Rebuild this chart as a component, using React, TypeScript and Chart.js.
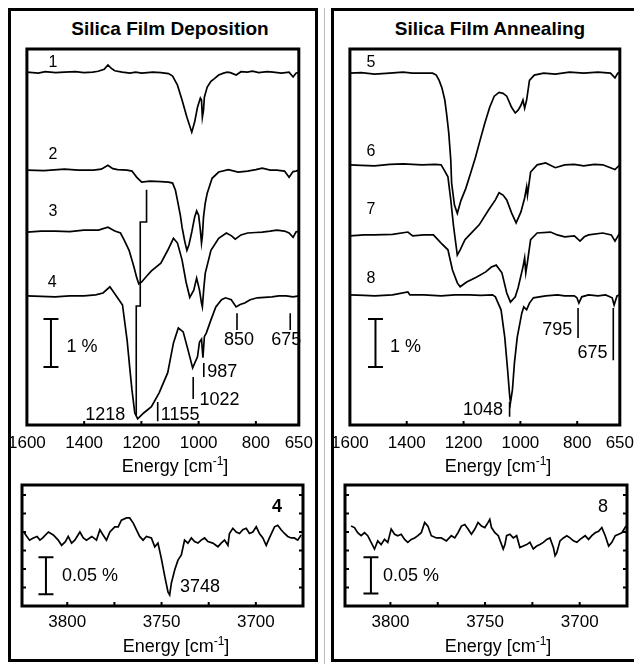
import React, { useEffect, useRef } from "react";
import { Chart, registerables } from "chart.js";

Chart.register(...registerables);

const FONT = "Arial, 'Liberation Sans', Helvetica, sans-serif";

type Pt = [number, number];

// ---------- axes ----------
const fingerprintRange: Pt = [650, 1600];
const fingerprintTicks = [1600, 1400, 1200, 1000, 800, 650];
const fingerprintInnerTicks = [1400, 1200, 1000, 800];
const fingerprintYMax = 7.833;

const hydroxylRange: Pt = [3675, 3824];
const hydroxylTicks = [3800, 3750, 3700];
const hydroxylInnerTicks = [3800, 3775, 3750, 3725, 3700];
const hydroxylYTicks = [0.025, 0.05, 0.075, 0.1, 0.125, 0.15];
const hydroxylYMax = 0.1635;

// ---------- deposition spectra (wavenumber, change in %) ----------
const spectrum1: Pt[] = [
  [1600, 0], [1560, -0.02], [1536, 0.01], [1500, -0.01], [1469, 0], [1430, 0.01], [1401, -0.01], [1370, 0],
  [1351, 0.02], [1330, 0.06], [1317, 0.15], [1305, 0.08], [1293, 0.03], [1267, 0], [1240, -0.02], [1220, 0],
  [1199, -0.02], [1160, 0], [1132, -0.01], [1105, -0.03], [1091, -0.08], [1074, -0.27], [1058, -0.58],
  [1041, -0.94], [1024, -1.25], [1014, -1.04], [1004, -0.73], [994, -0.54], [990, -0.58], [987, -0.94],
  [983, -0.79], [980, -0.52], [970, -0.31], [957, -0.19], [946, -0.14], [930, -0.06], [913, -0.02], [900, 0],
  [889, -0.01], [869, -0.06], [852, 0.01], [830, 0], [812, 0.02], [790, -0.01], [761, 0.01], [740, 0],
  [711, -0.02], [684, 0], [670, -0.1], [660, -0.02], [650, 0],
];
const spectrum2: Pt[] = [
  [1600, 0], [1540, -0.01], [1469, 0.02], [1420, 0], [1368, 0], [1340, 0.02], [1317, 0.1], [1300, 0.03],
  [1283, 0.01], [1250, 0], [1233, -0.02], [1216, -0.15], [1199, -0.25], [1170, -0.23], [1132, -0.24],
  [1105, -0.25], [1091, -0.27], [1081, -0.42], [1074, -0.63], [1064, -0.94], [1058, -1.19], [1048, -1.5],
  [1041, -1.67], [1034, -1.56], [1024, -1.29], [1014, -0.98], [1007, -0.85], [1000, -0.94], [994, -1.25],
  [990, -1.52], [987, -1.38], [983, -0.98], [977, -0.69], [970, -0.48], [953, -0.17], [930, -0.04],
  [896, 0.01], [862, -0.04], [829, -0.02], [800, 0.01], [778, 0.04], [750, 0], [727, 0], [700, -0.02],
  [684, -0.15], [670, -0.03], [660, -0.02], [650, 0],
];
const spectrum3: Pt[] = [
  [1600, -0.02], [1550, 0], [1502, 0], [1450, -0.01], [1401, 0.02], [1350, 0.02], [1317, 0.08], [1293, 0],
  [1273, -0.04], [1260, -0.19], [1243, -0.4], [1226, -0.75], [1216, -0.98], [1209, -1.1], [1199, -1.06],
  [1182, -0.94], [1165, -0.83], [1132, -0.67], [1108, -0.4], [1088, -0.15], [1074, -0.25], [1058, -0.6],
  [1044, -1.06], [1031, -1.38], [1017, -1.23], [1007, -0.98], [997, -1.23], [990, -1.5], [987, -1.58],
  [982, -1.2], [977, -0.88], [957, -0.4], [930, -0.15], [903, -0.04], [885, -0.1], [872, -0.17], [852, -0.08],
  [829, -0.04], [800, -0.03], [778, -0.02], [750, 0], [727, 0.02], [700, 0], [684, -0.04], [670, -0.13],
  [660, -0.02], [650, 0],
];
const spectrum4: Pt[] = [
  [1600, 0], [1550, -0.01], [1502, -0.02], [1450, 0], [1401, 0], [1360, 0.02], [1334, 0.06], [1310, 0.19],
  [1290, 0.02], [1266, -0.19], [1250, -0.92], [1240, -1.54], [1233, -1.96], [1223, -2.44], [1213, -2.56],
  [1192, -2.44], [1165, -2.31], [1138, -2.02], [1108, -1.6], [1088, -0.98], [1071, -0.67], [1054, -0.75],
  [1037, -1.13], [1021, -1.5], [1004, -1.27], [997, -0.96], [990, -0.9], [985, -1.29], [980, -0.85],
  [973, -0.77], [957, -0.5], [940, -0.23], [920, -0.08], [906, -0.04], [886, -0.08], [869, -0.23],
  [855, -0.18], [839, -0.15], [820, -0.08], [795, -0.04], [770, -0.03], [744, -0.02], [720, 0], [694, 0],
  [670, -0.02], [650, 0],
];

// ---------- annealing spectra ----------
const spectrum5: Pt[] = [
  [1600, 0], [1560, 0.01], [1513, -0.02], [1460, 0], [1413, 0.02], [1380, 0], [1346, 0], [1309, 0],
  [1296, -0.04], [1286, -0.15], [1276, -0.31], [1266, -0.56], [1259, -0.88], [1252, -1.25], [1245, -1.81],
  [1242, -2.29], [1232, -2.75], [1222, -2.92], [1209, -2.65], [1192, -2.4], [1175, -2.08], [1158, -1.75],
  [1142, -1.4], [1125, -1.04], [1108, -0.71], [1092, -0.48], [1075, -0.4], [1061, -0.42], [1048, -0.48],
  [1031, -0.71], [1018, -0.83], [1008, -0.77], [998, -0.67], [991, -0.56], [985, -0.73], [978, -0.56],
  [968, -0.15], [951, -0.04], [918, 0], [877, -0.02], [827, 0.02], [777, 0], [727, 0.02], [683, 0],
  [667, -0.1], [657, 0], [650, 0],
];
const spectrum6: Pt[] = [
  [1600, 0], [1560, -0.01], [1513, -0.02], [1460, 0.01], [1413, 0.02], [1346, 0], [1300, 0.01], [1279, 0],
  [1269, -0.1], [1255, -0.25], [1245, -0.73], [1235, -1.29], [1222, -1.88], [1212, -1.77], [1195, -1.56],
  [1179, -1.46], [1145, -1.25], [1112, -0.94], [1088, -0.73], [1075, -0.58], [1061, -0.63], [1048, -0.73],
  [1031, -1.0], [1015, -1.21], [998, -0.98], [985, -0.69], [978, -0.46], [975, -0.63], [964, -0.15],
  [941, 0], [911, 0.04], [877, -0.06], [844, 0], [810, 0.01], [777, -0.02], [740, 0.01], [710, 0],
  [667, -0.1], [650, 0],
];
const spectrum7: Pt[] = [
  [1600, -0.02], [1550, 0], [1513, 0], [1450, 0.01], [1396, 0.06], [1379, -0.02], [1340, 0], [1306, 0],
  [1279, -0.17], [1255, -0.31], [1239, -0.73], [1222, -1.0], [1212, -1.08], [1189, -0.98], [1155, -0.88],
  [1122, -0.77], [1102, -0.67], [1085, -0.63], [1065, -0.79], [1048, -1.21], [1035, -1.4], [1018, -1.29],
  [1008, -1.1], [991, -0.67], [985, -0.48], [981, -0.79], [975, -0.56], [964, -0.1], [941, 0.04], [894, 0.06],
  [870, 0], [844, -0.04], [810, -0.02], [790, -0.13], [775, -0.04], [760, 0], [710, 0.04], [680, 0],
  [667, -0.13], [650, 0.04],
];
const spectrum8: Pt[] = [
  [1600, 0], [1550, -0.01], [1513, -0.02], [1450, 0], [1396, 0.06], [1389, 0], [1340, 0], [1279, -0.02],
  [1230, 0], [1179, 0], [1140, -0.01], [1098, 0], [1088, -0.04], [1068, -0.31], [1055, -0.88], [1045, -1.56],
  [1038, -2.08], [1035, -2.25], [1028, -1.98], [1021, -1.42], [1011, -0.88], [995, -0.38], [988, -0.25],
  [978, -0.31], [968, -0.17], [954, -0.06], [911, -0.02], [870, 0], [844, -0.02], [810, -0.02], [801, -0.06],
  [794, -0.17], [784, -0.04], [760, 0], [727, -0.02], [700, 0], [677, -0.06], [670, -0.21], [660, -0.02],
  [650, 0],
];

const depositionOffsets = [7.35, 5.31, 4.04, 2.69];
const annealingOffsets = [7.33, 5.42, 3.96, 2.71];
const depositionNames = ["1", "2", "3", "4"];
const annealingNames = ["5", "6", "7", "8"];
const depositionNamePos: Pt[] = [[1509, 7.54], [1509, 5.625], [1509, 4.44], [1512, 2.96]];
const annealingNamePos: Pt[] = [[1526, 7.54], [1526, 5.69], [1526, 4.48], [1526, 3.06]];

// ---------- O-H region spectra ----------
const hydroxyl4: Pt[] = [
  [3823, 0.1], [3822, 0.096], [3820, 0.089], [3818, 0.092], [3816, 0.094], [3814.5, 0.089], [3813, 0.092],
  [3810, 0.1], [3807.4, 0.096], [3804.8, 0.089], [3803, 0.082], [3801, 0.087], [3799.5, 0.094],
  [3797.7, 0.085], [3796, 0.089], [3793.3, 0.1], [3791.5, 0.092], [3789.8, 0.089], [3787, 0.094],
  [3784.5, 0.089], [3782.7, 0.103], [3781, 0.096], [3779.2, 0.089], [3777.4, 0.1], [3774.8, 0.107],
  [3773, 0.107], [3771.3, 0.116], [3768.6, 0.119], [3766.9, 0.119], [3765, 0.112], [3763.3, 0.103],
  [3761.6, 0.094], [3759.8, 0.089], [3758, 0.094], [3755.4, 0.092], [3753.6, 0.08], [3751.9, 0.085],
  [3750.1, 0.064], [3748.3, 0.04], [3746.6, 0.019], [3745.7, 0.015], [3744.8, 0.031], [3743, 0.049],
  [3741.3, 0.062], [3739.5, 0.069], [3737.8, 0.089], [3736, 0.085], [3734.2, 0.092], [3732.5, 0.087],
  [3730.7, 0.085], [3729, 0.089], [3727.2, 0.092], [3725.4, 0.087], [3722.8, 0.085], [3720.1, 0.08],
  [3718.4, 0.085], [3716.6, 0.089], [3714.8, 0.082], [3714, 0.098], [3712.2, 0.105], [3710.4, 0.1],
  [3708.7, 0.098], [3706.9, 0.103], [3705.1, 0.105], [3703.4, 0.098], [3701.6, 0.1], [3699.8, 0.107],
  [3698.1, 0.098], [3696.3, 0.092], [3694.5, 0.082], [3692.8, 0.092], [3690.1, 0.107], [3688.4, 0.109],
  [3686.6, 0.103], [3684.8, 0.098], [3683.1, 0.094], [3681.3, 0.092], [3679.6, 0.092], [3677.8, 0.089],
  [3676, 0.096],
];
const hydroxyl8: Pt[] = [
  [3820.8, 0.108], [3819, 0.106], [3817.3, 0.099], [3815.5, 0.095], [3813.7, 0.099], [3812, 0.095],
  [3810.2, 0.086], [3808.4, 0.077], [3806.7, 0.088], [3804.9, 0.083], [3803.1, 0.09], [3801.4, 0.086],
  [3799.6, 0.104], [3797.8, 0.097], [3796.1, 0.095], [3794.3, 0.097], [3792.5, 0.09], [3790.8, 0.086],
  [3789, 0.09], [3787.2, 0.092], [3785.5, 0.095], [3783.7, 0.099], [3781.9, 0.113], [3780.2, 0.108],
  [3778.4, 0.095], [3775.7, 0.092], [3773.1, 0.092], [3770.4, 0.088], [3767.8, 0.095], [3766, 0.092],
  [3764.3, 0.099], [3762.5, 0.108], [3760.7, 0.11], [3759, 0.104], [3757.2, 0.097], [3755.4, 0.104],
  [3753.7, 0.113], [3751.9, 0.108], [3750.1, 0.106], [3748.4, 0.113], [3747.5, 0.117], [3746.6, 0.106],
  [3744.8, 0.099], [3743, 0.095], [3740.4, 0.077], [3739.5, 0.083], [3738.6, 0.095], [3736.9, 0.097],
  [3735.1, 0.092], [3733.3, 0.095], [3731.6, 0.079], [3729.8, 0.081], [3728, 0.083], [3726.3, 0.086],
  [3724.5, 0.077], [3722.7, 0.081], [3721, 0.083], [3719.2, 0.086], [3717.4, 0.09], [3715.7, 0.092],
  [3713.9, 0.079], [3713, 0.068], [3712.1, 0.072], [3710.4, 0.088], [3708.6, 0.092], [3706.8, 0.095],
  [3705.1, 0.092], [3703.3, 0.088], [3701.5, 0.086], [3699.8, 0.09], [3697.1, 0.095], [3695.3, 0.09],
  [3693.6, 0.095], [3691.8, 0.099], [3690, 0.101], [3688.3, 0.106], [3686.5, 0.095], [3684.7, 0.081],
  [3683, 0.086], [3681.2, 0.095], [3679.4, 0.097], [3677.7, 0.099], [3675.5, 0.108],
];

// ---------- annotations (data coordinates) ----------
type Txt = { text: string; wn: number; v: number; align: CanvasTextAlign; size: number; bold?: boolean };
type Bar = { wn: number; v1: number; v2: number };

const depositionMarkers: number[][] = [[1143, 0.48, 0.08], [1019, 1.0, 0.54], [982, 1.29, 1.0], [866, 2.33, 1.98], [680, 2.33, 1.98]];
const depositionGuide: Pt[] = [[1182, 4.9], [1182, 4.23], [1204, 4.23], [1204, 2.48], [1218, 2.48], [1218, 0.21]];
const depositionPeakTexts: Txt[] = [
  { text: "1218", wn: 1256, v: 0.21, align: "right", size: 18 },
  { text: "1155", wn: 1132, v: 0.21, align: "left", size: 18 },
  { text: "1022", wn: 997, v: 0.52, align: "left", size: 18 },
  { text: "987", wn: 970, v: 1.1, align: "left", size: 18 },
  { text: "850", wn: 859, v: 1.77, align: "center", size: 18 },
  { text: "675", wn: 694, v: 1.77, align: "center", size: 18 },
  { text: "1 %", wn: 1462, v: 1.625, align: "left", size: 18 },
];
const depositionBar: Bar = { wn: 1516, v1: 2.21, v2: 1.21 };

const annealingMarkers: number[][] = [[1038, 0.48, 0.17], [797, 2.44, 1.81], [673, 2.44, 1.35]];
const annealingPeakTexts: Txt[] = [
  { text: "1048", wn: 1061, v: 0.31, align: "right", size: 18 },
  { text: "795", wn: 817, v: 1.98, align: "right", size: 18 },
  { text: "675", wn: 693, v: 1.5, align: "right", size: 18 },
  { text: "1 %", wn: 1459, v: 1.625, align: "left", size: 18 },
];
const annealingBar: Bar = { wn: 1510, v1: 2.21, v2: 1.21 };

const hydroxyl4Texts: Txt[] = [
  { text: "0.05 %", wn: 3802.8, v: 0.04, align: "left", size: 18 },
  { text: "3748", wn: 3740.2, v: 0.025, align: "left", size: 18 },
  { text: "4", wn: 3688.8, v: 0.134, align: "center", size: 18, bold: true },
];
const hydroxyl4Bar: Bar = { wn: 3811.3, v1: 0.066, v2: 0.016 };
const hydroxyl8Texts: Txt[] = [
  { text: "0.05 %", wn: 3803.9, v: 0.04, align: "left", size: 18 },
  { text: "8", wn: 3687.7, v: 0.134, align: "center", size: 18 },
];
const hydroxyl8Bar: Bar = { wn: 3810.3, v1: 0.066, v2: 0.017 };

// ---------- drawing helpers ----------
interface Decor {
  xInner: number[];
  yInner?: number[];
  markers: number[][];
  guides: Pt[][];
  texts: Txt[];
  bars: Bar[];
}

function namesToTexts(names: string[], pos: Pt[]): Txt[] {
  return names.map((n, i) => ({ text: n, wn: pos[i][0], v: pos[i][1], align: "center" as CanvasTextAlign, size: 16 }));
}

function decorPlugin(d: Decor) {
  return {
    id: "decor",
    afterDatasetsDraw(chart: any) {
      const { ctx, chartArea: a } = chart;
      const xs = chart.scales.x;
      const ys = chart.scales.y;
      const X = (v: number) => xs.getPixelForValue(v);
      const Y = (v: number) => ys.getPixelForValue(v);
      ctx.save();
      ctx.strokeStyle = "#000";
      ctx.fillStyle = "#000";
      ctx.lineCap = "butt";
      // inner ticks
      ctx.lineWidth = 2;
      ctx.beginPath();
      d.xInner.forEach((t) => {
        const p = X(t);
        ctx.moveTo(p, a.bottom);
        ctx.lineTo(p, a.bottom - 4);
      });
      (d.yInner || []).forEach((t) => {
        const p = Y(t);
        ctx.moveTo(a.left, p);
        ctx.lineTo(a.left + 4, p);
        ctx.moveTo(a.right, p);
        ctx.lineTo(a.right - 4, p);
      });
      ctx.stroke();
      // peak markers and guides
      ctx.lineWidth = 1.6;
      ctx.beginPath();
      d.markers.forEach(([wn, v1, v2]) => {
        ctx.moveTo(X(wn), Y(v1));
        ctx.lineTo(X(wn), Y(v2));
      });
      d.guides.forEach((g) => {
        g.forEach(([wn, v], i) => (i === 0 ? ctx.moveTo(X(wn), Y(v)) : ctx.lineTo(X(wn), Y(v))));
      });
      ctx.stroke();
      // scale bars
      ctx.lineWidth = 2;
      ctx.beginPath();
      d.bars.forEach((b) => {
        const x = X(b.wn);
        ctx.moveTo(x, Y(b.v1));
        ctx.lineTo(x, Y(b.v2));
        ctx.moveTo(x - 7.5, Y(b.v1));
        ctx.lineTo(x + 7.5, Y(b.v1));
        ctx.moveTo(x - 7.5, Y(b.v2));
        ctx.lineTo(x + 7.5, Y(b.v2));
      });
      ctx.stroke();
      // texts
      ctx.textBaseline = "middle";
      d.texts.forEach((t) => {
        ctx.font = `${t.bold ? "bold " : ""}${t.size}px ${FONT}`;
        ctx.textAlign = t.align;
        ctx.fillText(t.text, X(t.wn), Y(t.v));
      });
      // frame
      ctx.lineWidth = 3;
      ctx.strokeRect(a.left, a.top, a.right - a.left, a.bottom - a.top);
      ctx.restore();
    },
  };
}

function makeConfig(
  series: Pt[][],
  offsets: number[],
  range: Pt,
  ticks: number[],
  yMax: number,
  decor: Decor,
  tickPadding: number,
  scaleHeight: number,
  padding: { left: number; right: number; top: number; bottom: number }
): any {
  return {
    type: "line",
    data: {
      datasets: series.map((s, i) => ({
        data: s.map(([x, y]) => ({ x, y: y + offsets[i] })),
        borderColor: "#000",
        borderWidth: 1.7,
        pointRadius: 0,
        fill: false,
        tension: 0,
      })),
    },
    options: {
      responsive: false,
      animation: false,
      events: [],
      layout: { padding },
      plugins: { legend: { display: false }, tooltip: { enabled: false } },
      scales: {
        x: {
          type: "linear",
          reverse: true,
          min: range[0],
          max: range[1],
          grid: { display: false, drawTicks: false },
          border: { display: false },
          ticks: {
            color: "#000",
            font: { family: FONT, size: 17 },
            padding: tickPadding,
            maxRotation: 0,
            autoSkip: false,
            callback: (v: number) => String(v),
          },
          afterBuildTicks: (s: any) => {
            s.ticks = ticks.map((value) => ({ value }));
          },
          afterFit: (s: any) => {
            s.height = scaleHeight;
          },
        },
        y: { display: false, min: 0, max: yMax },
      },
    },
    plugins: [decorPlugin(decor)],
  };
}

function ChartCanvas(props: { left: number; top: number; width: number; height: number; make: () => any }) {
  const ref = useRef<HTMLCanvasElement>(null);
  useEffect(() => {
    const c = new Chart(ref.current!, props.make());
    return () => c.destroy();
  }, []);
  return (
    <canvas
      ref={ref}
      width={props.width}
      height={props.height}
      style={{ position: "absolute", left: props.left, top: props.top, width: props.width, height: props.height }}
    />
  );
}

const titleStyle: React.CSSProperties = {
  position: "absolute",
  width: 300,
  textAlign: "center",
  fontFamily: FONT,
  fontWeight: "bold",
  fontSize: 19,
  lineHeight: "19px",
  color: "#000",
  whiteSpace: "nowrap",
};
const axisTitleStyle: React.CSSProperties = {
  position: "absolute",
  width: 200,
  textAlign: "center",
  fontFamily: FONT,
  fontSize: 18,
  lineHeight: "18px",
  color: "#000",
  whiteSpace: "nowrap",
};

function EnergyLabel({ cx, top }: { cx: number; top: number }) {
  return (
    <div style={{ ...axisTitleStyle, left: cx - 100, top }}>
      Energy [cm<span style={{ fontSize: 12, position: "relative", top: -7 }}>-1</span>]
    </div>
  );
}

export default function App() {
  const boxStyle: React.CSSProperties = {
    position: "absolute",
    top: 0,
    height: 654,
    border: "3px solid #000",
    boxSizing: "border-box",
  };
  return (
    <div style={{ position: "relative", width: 626, height: 656 }}>
      <div style={{ ...boxStyle, left: 0, width: 310 }} />
      <div style={{ position: "absolute", left: 316, top: 0, width: 1, height: 656, background: "#bbb" }} />
      <div style={{ ...boxStyle, left: 323, width: 307 }} />

      <div style={{ ...titleStyle, left: 162 - 150, top: 11 }}>Silica Film Deposition</div>
      <div style={{ ...titleStyle, left: 482 - 150, top: 11 }}>Silica Film Annealing</div>

      <ChartCanvas
        left={-8}
        top={32}
        width={321}
        height={435}
        make={() =>
          makeConfig(
            [spectrum1, spectrum2, spectrum3, spectrum4],
            depositionOffsets,
            fingerprintRange,
            fingerprintTicks,
            fingerprintYMax,
            {
              xInner: fingerprintInnerTicks,
              markers: depositionMarkers,
              guides: [depositionGuide],
              texts: [...depositionPeakTexts, ...namesToTexts(depositionNames, depositionNamePos)],
              bars: [depositionBar],
            },
            8,
            30,
            { left: 21, right: 18, top: 9, bottom: 20 }
          )
        }
      />
      <ChartCanvas
        left={315}
        top={32}
        width={319}
        height={435}
        make={() =>
          makeConfig(
            [spectrum5, spectrum6, spectrum7, spectrum8],
            annealingOffsets,
            fingerprintRange,
            fingerprintTicks,
            fingerprintYMax,
            {
              xInner: fingerprintInnerTicks,
              markers: annealingMarkers,
              guides: [],
              texts: [...annealingPeakTexts, ...namesToTexts(annealingNames, annealingNamePos)],
              bars: [annealingBar],
            },
            8,
            30,
            { left: 21, right: 14, top: 9, bottom: 20 }
          )
        }
      />
      <EnergyLabel cx={167} top={449} />
      <EnergyLabel cx={490} top={449} />

      <ChartCanvas
        left={-8}
        top={468}
        width={321}
        height={160}
        make={() =>
          makeConfig(
            [hydroxyl4],
            [0],
            hydroxylRange,
            hydroxylTicks,
            hydroxylYMax,
            {
              xInner: hydroxylInnerTicks,
              yInner: hydroxylYTicks,
              markers: [],
              guides: [],
              texts: hydroxyl4Texts,
              bars: [hydroxyl4Bar],
            },
            6,
            25,
            { left: 22, right: 18, top: 9, bottom: 5 }
          )
        }
      />
      <ChartCanvas
        left={315}
        top={468}
        width={319}
        height={160}
        make={() =>
          makeConfig(
            [hydroxyl8],
            [0],
            hydroxylRange,
            hydroxylTicks,
            hydroxylYMax,
            {
              xInner: hydroxylInnerTicks,
              yInner: hydroxylYTicks,
              markers: [],
              guides: [],
              texts: hydroxyl8Texts,
              bars: [hydroxyl8Bar],
            },
            6,
            25,
            { left: 22, right: 15, top: 9, bottom: 5 }
          )
        }
      />
      <EnergyLabel cx={168} top={629} />
      <EnergyLabel cx={490} top={629} />
    </div>
  );
}
